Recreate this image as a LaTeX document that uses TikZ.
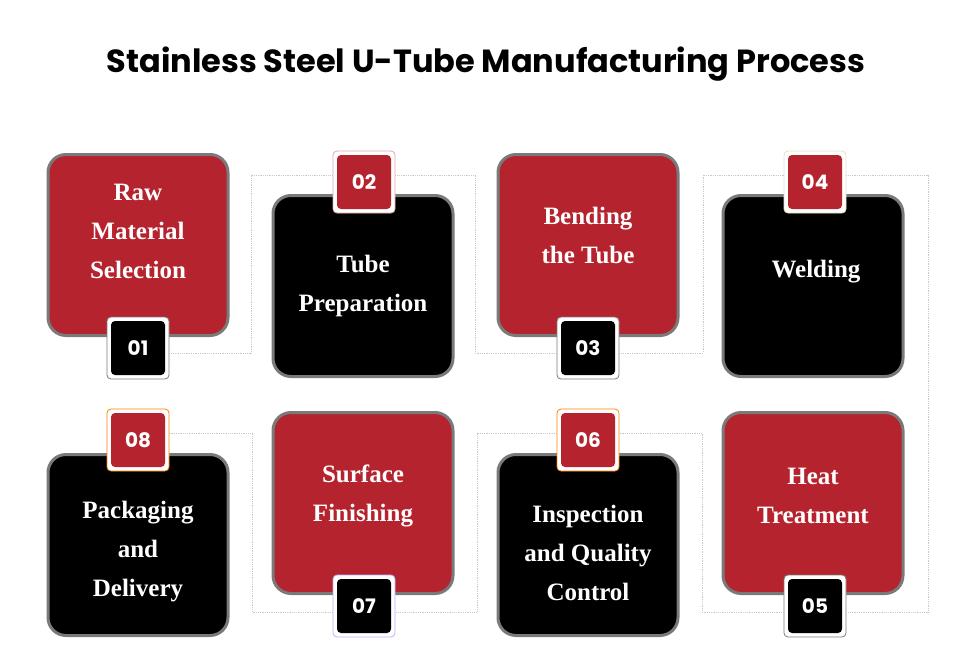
\documentclass[tikz,border=0pt]{standalone}
\usepackage{fontspec}
\setmainfont{Liberation Serif}
\newfontfamily\popfont{Poppins}
\definecolor{stepred}{HTML}{B5232E}
\definecolor{rimgray}{HTML}{7A7A7A}
\definecolor{dotgray}{HTML}{C8C8C8}
\tikzset{
  stepbox/.style={draw=rimgray,line width=3pt,rounded corners=18pt,minimum width=180pt,minimum height=181pt},
  steptext/.style={text=white,font=\bfseries\fontsize{25}{39}\selectfont,align=center},
  badgerim/.style={draw=#1,fill=white,line width=0.8pt,rounded corners=4pt,minimum size=62pt},
  badge/.style={fill=#1,rounded corners=4pt,minimum size=54pt,text=white,font=\popfont\bfseries\fontsize{20}{20}\selectfont},
  link/.style={draw=dotgray,densely dotted,line width=0.8pt}
}
\begin{document}
\begin{tikzpicture}[x=1pt,y=-1pt]
\useasboundingbox (0,0) rectangle (980,656);
\node[font=\popfont\bfseries\fontsize{32}{32}\selectfont] (title) at (486,64) {Stainless Steel U-Tube Manufacturing Process};
% dotted guide lines between badges
\coordinate (k1) at (251,353); \coordinate (k2) at (251,175);
\coordinate (k3) at (475,175); \coordinate (k4) at (475,353);
\coordinate (k5) at (703,353); \coordinate (k6) at (703,175);
\coordinate (k7) at (928,175); \coordinate (k8) at (928,612);
\coordinate (k9) at (702,612); \coordinate (k10) at (702,433);
\coordinate (k11) at (477,433); \coordinate (k12) at (477,612);
\coordinate (k13) at (252,612); \coordinate (k14) at (252,433);
% boxes
\node[stepbox,fill=stepred] (s1) at (138,245) {};
\node[stepbox,fill=black] (s2) at (363,286) {};
\node[stepbox,fill=stepred] (s3) at (588,245) {};
\node[stepbox,fill=black] (s4) at (813,286) {};
\node[stepbox,fill=stepred] (s5) at (813,503) {};
\node[stepbox,fill=black] (s6) at (588,545) {};
\node[stepbox,fill=stepred] (s7) at (363,503) {};
\node[stepbox,fill=black] (s8) at (138,545) {};
\node[steptext] (t1) at (138,231) {Raw\\Material\\Selection};
\node[steptext] (t2) at (363,286) {Tube\\Preparation};
\node[steptext] (t3) at (588,235) {Bending\\the Tube};
\node[steptext] (t4) at (816,272) {Welding};
\node[steptext] (t5) at (813,496) {Heat\\Treatment};
\node[steptext] (t6) at (588,553) {Inspection\\and Quality\\Control};
\node[steptext] (t7) at (363,496) {Surface\\Finishing};
\node[steptext] (t8) at (138,552) {Packaging\\and\\Delivery};
% badges
\foreach \n/\x/\y/\c/\r in {1/138/348/black/rimgray, 2/364/182/stepred/stepred!40, 3/588/348/black/rimgray, 4/815/182/stepred/yellow!40!gray!40,
  5/815/606/black/rimgray, 6/588/440/stepred/orange, 7/364/606/black/blue!30, 8/138/440/stepred/orange} {
  \node[badgerim=\r] (r\n) at (\x,\y) {};
  \node[badge=\c] (b\n) at (\x,\y) {0\n};
}
\draw[link] (r1.east |- k1) -- (k1) -- (k2) -- (r2.west |- k2);
\draw[link] (r2.east |- k3) -- (k3) -- (k4) -- (r3.west |- k4);
\draw[link] (r3.east |- k5) -- (k5) -- (k6) -- (r4.west |- k6);
\draw[link] (r4.east |- k7) -- (k7) -- (k8) -- (r5.east |- k8);
\draw[link] (r5.west |- k9) -- (k9) -- (k10) -- (r6.east |- k10);
\draw[link] (r6.west |- k11) -- (k11) -- (k12) -- (r7.east |- k12);
\draw[link] (r7.west |- k13) -- (k13) -- (k14) -- (r8.east |- k14);
\end{tikzpicture}
\end{document}
